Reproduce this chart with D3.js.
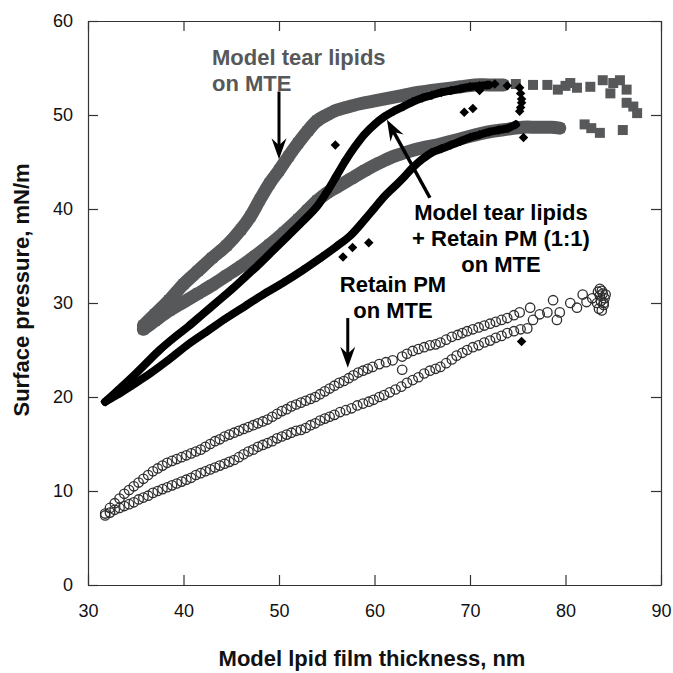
<!DOCTYPE html>
<html><head><meta charset="utf-8">
<script src="https://cdn.jsdelivr.net/npm/d3@7"></script>
<style>body{margin:0;background:#fff}svg{display:block}</style>
</head><body><svg id="c" width="673" height="673"></svg>
<script>
// ---------- axes ----------
const xDomain = [30, 90];
const yDomain = [0, 60];
const xTicks = [30, 40, 50, 60, 70, 80, 90];
const yTicks = [0, 10, 20, 30, 40, 50, 60];
const xTitle = "Model lpid film thickness, nm";
const yTitle = "Surface pressure, mN/m";

// ---------- Model tear lipids on MTE (grey squares) ----------
const tearUpper = [[35.8,27.6],[37,28.8],[38.5,30.3],[40,32.0],[41.5,33.4],[43,34.8],[44.5,36.1],[46,37.8],[47,39.2],[48,41.0],[49,42.7],[50,44.1],[51,45.6],[52,47.0],[53,48.3],[54,49.4],[55,50.0],[56,50.5],[57,50.8],[58.5,51.2],[60,51.5],[61.5,51.8],[63,52.1],[64.5,52.4],[66,52.6],[67.5,52.8],[69,53.0],[70.5,53.2],[72,53.2],[73.5,53.2]];
const tearLower = [[35.8,27.2],[37,28.1],[38.5,29.2],[40,30.1],[41.5,31.0],[43,31.9],[44.5,32.9],[46,33.9],[47.5,35.0],[49,36.2],[50.5,37.5],[52,38.9],[53,39.9],[54,40.9],[55,41.7],[56,42.3],[57.5,43.2],[59,44.1],[60.5,44.9],[62,45.6],[63.5,46.1],[65,46.5],[66.5,46.8],[68,47.2],[69.5,47.6],[71,48.0],[72.5,48.3],[74,48.5],[75.5,48.7],[77,48.7],[78.5,48.7],[79.4,48.6]];
const tearScatter = [[74.8,53.3],[76.6,53.2],[78.1,53.2],[79.2,52.7],[80.0,53.1],[80.5,53.4],[81.2,52.9],[82.6,53.0],[83.9,53.7],[84.7,52.3],[85.0,53.4],[85.7,53.7],[86.4,52.7],[86.4,51.3],[87.1,50.9],[87.5,50.2],[82.0,49.0],[82.7,48.6],[83.6,48.1],[86.0,48.4]];

// ---------- Model tear lipids + Retain PM (1:1) on MTE (black diamonds) ----------
const mixUpper = [[31.8,19.5],[33,20.6],[34.5,22.0],[36,23.5],[37.5,25.0],[39,26.3],[40.5,27.5],[42,28.8],[43.5,30.1],[45,31.4],[46.5,32.8],[48,34.2],[49.5,35.7],[51,37.2],[52.5,38.7],[54,40.3],[55,41.8],[56,43.5],[57,45.2],[58,46.7],[59,48.0],[60,49.0],[61,49.8],[62,50.4],[63,50.9],[64,51.4],[65,51.8],[66,52.1],[67,52.4],[68,52.6],[69,52.8],[70,53.0],[71,53.1],[72,53.2]];
const mixLower = [[31.8,19.5],[33,20.2],[34.7,21.3],[36.5,22.5],[38.5,24.0],[40.5,25.6],[42.5,27.0],[44.5,28.4],[46.5,29.7],[48.5,31.0],[50.5,32.2],[52.5,33.5],[54.5,34.9],[56,36.0],[57.5,37.2],[59,38.9],[60,40.1],[61,41.3],[62,42.3],[63,43.3],[64,44.4],[65,45.3],[66,46.0],[67,46.4],[68,46.8],[69,47.2],[70,47.6],[71,47.9],[72,48.2],[73,48.4],[74,48.6],[74.8,49.0]];
const mixScatter = [[55.9,46.8],[56.7,34.9],[57.7,35.9],[59.4,36.4],[69.4,50.3],[70.3,50.7],[71.0,52.6],[71.8,53.2],[72.6,53.3],[73.9,53.1],[75.2,52.9],[75.3,52.3],[75.4,51.7],[75.4,51.3],[75.3,50.8],[75.2,50.4],[75.6,47.6],[75.4,25.9]];

// ---------- Retain PM on MTE (open circles) ----------
const retainUpper = [[31.8,7.6],[32.3,8.2],[32.8,8.7],[33.3,9.2],[33.8,9.7],[34.3,10.1],[34.8,10.5],[35.3,10.9],[35.8,11.3],[36.3,11.7],[36.8,12.1],[37.3,12.4],[37.8,12.7],[38.3,13.0],[38.8,13.2],[39.3,13.4],[39.8,13.6],[40.3,13.8],[40.8,14.0],[41.3,14.2],[41.8,14.4],[42.3,14.7],[42.8,15.0],[43.3,15.3],[43.8,15.5],[44.3,15.8],[44.8,16.0],[45.3,16.2],[45.8,16.4],[46.3,16.6],[46.8,16.8],[47.3,17.0],[47.8,17.2],[48.3,17.4],[48.8,17.6],[49.3,17.9],[49.8,18.2],[50.3,18.5],[50.8,18.7],[51.3,19.0],[51.8,19.2],[52.3,19.4],[52.8,19.6],[53.3,19.8],[53.8,20.0],[54.3,20.3],[54.8,20.6],[55.3,20.9],[55.8,21.2],[56.3,21.5],[56.8,21.7],[57.3,22.0],[57.8,22.3],[58.3,22.6],[58.8,22.8],[59.3,23.0],[59.8,23.2],[60.5,23.5],[61.2,23.7],[61.9,23.9],[62.9,24.3],[63.4,24.6],[64.0,24.9],[64.6,25.1],[65.2,25.3],[65.8,25.5],[66.4,25.6],[66.9,25.8],[67.5,26.1],[68.1,26.4],[68.7,26.6],[69.2,26.8],[69.7,27.0],[70.3,27.2],[70.9,27.4],[71.5,27.6],[72.1,27.8],[72.7,28.0],[73.3,28.2],[73.9,28.4],[74.6,28.7],[75.2,29.0]];
const retainLower = [[31.8,7.4],[32.3,7.7],[32.8,8.0],[33.3,8.2],[33.8,8.4],[34.3,8.6],[34.8,8.8],[35.3,9.1],[35.8,9.3],[36.3,9.5],[36.8,9.8],[37.3,10.0],[37.8,10.2],[38.3,10.4],[38.8,10.6],[39.3,10.8],[39.8,11.0],[40.3,11.2],[40.8,11.4],[41.3,11.7],[41.8,11.9],[42.3,12.1],[42.8,12.3],[43.3,12.5],[43.8,12.7],[44.3,12.9],[44.8,13.1],[45.3,13.3],[45.8,13.6],[46.3,13.9],[46.8,14.2],[47.3,14.4],[47.8,14.7],[48.3,14.9],[48.8,15.1],[49.3,15.3],[49.8,15.6],[50.3,15.8],[50.8,16.0],[51.3,16.2],[51.8,16.4],[52.3,16.5],[52.8,16.7],[53.3,17.0],[53.8,17.2],[54.3,17.5],[54.8,17.7],[55.3,17.9],[55.8,18.1],[56.4,18.4],[57.0,18.6],[57.6,18.8],[58.2,19.1],[58.8,19.3],[59.4,19.5],[59.9,19.7],[60.5,20.0],[61.0,20.2],[61.6,20.5],[62.2,20.8],[62.8,21.1],[63.4,21.5],[64.0,21.8],[64.6,22.1],[65.2,22.5],[65.8,22.8],[66.4,23.0],[66.9,23.2],[67.5,23.6],[68.1,24.0],[68.6,24.4],[69.2,24.7],[69.7,25.0],[70.3,25.3],[70.9,25.5],[71.5,25.8],[72.1,26.0],[72.7,26.3],[73.3,26.5],[73.9,26.8],[74.6,27.0],[75.3,27.2],[76.0,27.3]];
const retainScatter = [[62.9,22.9],[76.6,28.2],[77.3,28.8],[76.3,29.5],[78.1,29.0],[78.7,30.3],[79.4,29.0],[79.1,28.2],[80.5,30.0],[81.2,29.5],[81.8,30.9],[82.2,30.1],[82.8,30.5],[83.3,30.0],[83.6,30.8],[83.8,31.3],[84.0,29.8],[83.5,29.4],[84.1,30.5],[83.9,31.0],[83.7,30.2],[84.2,30.9],[83.4,31.2],[83.8,29.2],[84.0,30.0],[83.6,31.5]];

// ---------- annotation text ----------
const tearLabel = ["Model tear lipids", "on MTE"];
const mixLabel = ["Model tear lipids", "+ Retain PM (1:1)", "on MTE"];
const retainLabel = ["Retain PM", "on MTE"];

// ================= drawing =================
const svg = d3.select("#c");
const FONT = "'Liberation Sans', Arial, Helvetica, sans-serif";
const GRAY = "#56585a";
const x = d3.scaleLinear().domain(xDomain).range([88, 661]);
const y = d3.scaleLinear().domain(yDomain).range([585, 21]);

function styleAxis(g, labels) {
  g.attr("font-family", FONT).attr("font-size", 18).attr("color", "#333");
  g.select(".domain").attr("stroke-width", 1.2);
  g.selectAll(".tick line").attr("stroke-width", 1.2);
  g.selectAll("text").attr("fill", "#111");
  if (!labels) g.selectAll("text").remove();
}
svg.append("g").attr("transform", "translate(0,585)")
  .call(d3.axisBottom(x).tickValues(xTicks).tickSizeInner(-10).tickSizeOuter(0).tickPadding(19))
  .call(g => styleAxis(g, true));
svg.append("g").attr("transform", "translate(88,0)")
  .call(d3.axisLeft(y).tickValues(yTicks).tickSizeInner(-10).tickSizeOuter(0).tickPadding(15))
  .call(g => styleAxis(g, true));
svg.append("g").attr("transform", "translate(0,21)")
  .call(d3.axisTop(x).tickValues(xTicks).tickSizeInner(-10).tickSizeOuter(0))
  .call(g => styleAxis(g, false));
svg.append("g").attr("transform", "translate(661,0)")
  .call(d3.axisRight(y).tickValues(yTicks).tickSizeInner(-10).tickSizeOuter(0))
  .call(g => styleAxis(g, false));

// axis titles
svg.append("text").attr("x", 372).attr("y", 666).attr("text-anchor", "middle")
  .attr("font-family", FONT).attr("font-weight", "bold").attr("font-size", 22).attr("fill", "#111").text(xTitle);
svg.append("text").attr("transform", "translate(29,290) rotate(-90)").attr("text-anchor", "middle")
  .attr("font-family", FONT).attr("font-weight", "bold").attr("font-size", 22).attr("fill", "#111").text(yTitle);

const line = d3.line().x(d => x(d[0])).y(d => y(d[1])).curve(d3.curveCatmullRom);

// Retain PM circles
svg.append("g").selectAll("circle")
  .data(retainUpper.concat(retainLower, retainScatter)).join("circle")
  .attr("cx", d => x(d[0])).attr("cy", d => y(d[1])).attr("r", 4.7)
  .attr("fill", "none").attr("stroke", "#2e2e2e").attr("stroke-width", 1.3);

// grey squares
const gG = svg.append("g");
[tearUpper, tearLower].forEach(s => gG.append("path").attr("d", line(s))
  .attr("fill", "none").attr("stroke", GRAY).attr("stroke-width", 13).attr("stroke-linecap", "round"));
gG.selectAll("path.sq").data(tearUpper.concat(tearLower, tearScatter)).join("path").attr("class", "sq")
  .attr("d", d3.symbol(d3.symbolSquare, 100)())
  .attr("transform", d => `translate(${x(d[0])},${y(d[1])})`).attr("fill", GRAY);

// black diamonds
const gB = svg.append("g");
[mixUpper, mixLower].forEach(s => gB.append("path").attr("d", line(s))
  .attr("fill", "none").attr("stroke", "#000").attr("stroke-width", 8).attr("stroke-linecap", "round"));
gB.selectAll("path.dm").data(mixUpper.concat(mixLower, mixScatter)).join("path").attr("class", "dm")
  .attr("d", d3.symbol(d3.symbolSquare, 45)())
  .attr("transform", d => `translate(${x(d[0])},${y(d[1])}) rotate(45)`).attr("fill", "#000");

// labels
function label(lines, px, baselines, anchor, color) {
  const t = svg.append("text").attr("font-family", FONT).attr("font-weight", "bold")
    .attr("font-size", 22).attr("fill", color).attr("text-anchor", anchor);
  lines.forEach((s, i) => t.append("tspan").attr("x", px).attr("y", baselines[i]).text(s));
}
label(tearLabel, 212, [65, 91], "start", GRAY);
label(mixLabel, 501, [220, 246, 272], "middle", "#000");
label(retainLabel, 393, [292, 318], "middle", "#000");

// arrows (tail -> tip in data coordinates)
function arrow(x1, y1, x2, y2, w) {
  const X1 = x(x1), Y1 = y(y1), X2 = x(x2), Y2 = y(y2);
  const a = Math.atan2(Y2 - Y1, X2 - X1);
  svg.append("line").attr("x1", X1).attr("y1", Y1)
    .attr("x2", X2 - Math.cos(a) * 14).attr("y2", Y2 - Math.sin(a) * 14)
    .attr("stroke", "#000").attr("stroke-width", w);
  svg.append("path").attr("d", "M0,0L-21,-7.5L-14,0L-21,7.5Z")
    .attr("transform", `translate(${X2},${Y2}) rotate(${a * 180 / Math.PI})`).attr("fill", "#000");
}
arrow(50.0, 52.5, 50.0, 45.3, 3);
arrow(65.8, 41.2, 61.3, 49.5, 3.5);
arrow(57.2, 28.4, 57.2, 23.1, 3);
</script></body></html>
